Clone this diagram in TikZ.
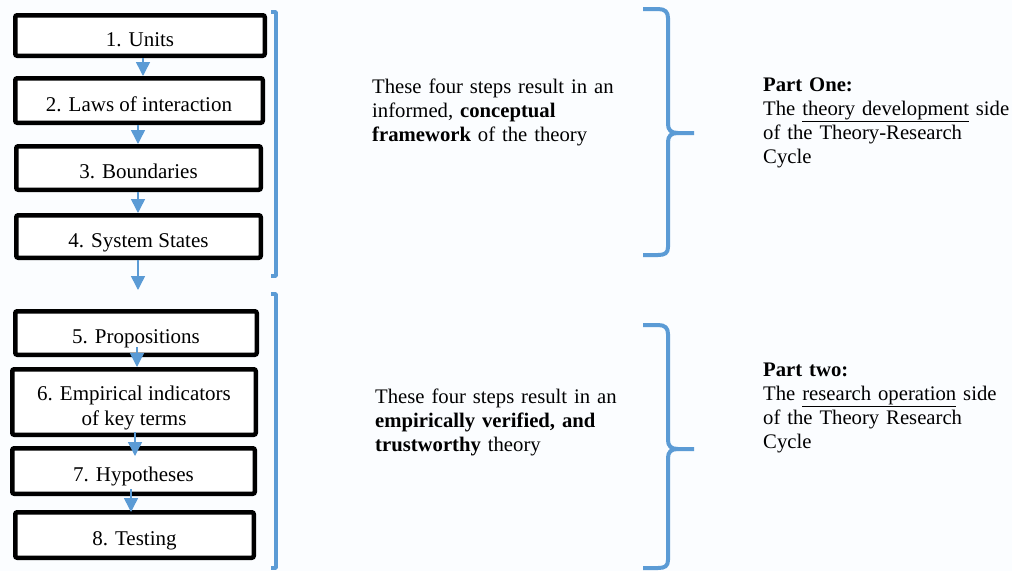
\documentclass[tikz,border=0pt]{standalone}
\usepackage{fontspec}
\setmainfont{Liberation Serif}
\usetikzlibrary{arrows.meta}
\definecolor{bblue}{RGB}{91,155,213}
\definecolor{bg}{RGB}{251,253,255}
\begin{document}
\begin{tikzpicture}[x=1pt,y=-1pt,
  boxbase/.style={draw=black,line width=4.5pt,rounded corners=2pt,fill=white,inner sep=0pt,font=\fontsize{21}{24.3}\selectfont},
  stepbox/.style={boxbase,text height=23pt,text depth=2pt},
  arr/.style={draw=bblue,line width=1.5pt,-{Triangle[width=14pt,length=14pt]}},
  bracket/.style={draw=bblue,line width=3.5pt,line join=round},
  brace/.style={draw=bblue,line width=4pt,line join=round},
  txt/.style={anchor=base west,inner sep=0pt,text width=270pt,align=left,font=\fontsize{20.7}{24.3}\selectfont}]
\fill[bg] (0,0) rectangle (1012,571);
\useasboundingbox (0,0) rectangle (1012,571);

% step boxes
\node[stepbox,minimum width=249.5pt,minimum height=40.5pt] (b1) at (140,35.5) {1. Units};
\node[stepbox,minimum width=247.5pt,minimum height=44.5pt] (b2) at (139,100.5) {2. Laws of interaction};
\node[stepbox,minimum width=244.5pt,minimum height=43.5pt] (b3) at (138.5,168) {3. Boundaries};
\node[stepbox,minimum width=244.5pt,minimum height=42.5pt] (b4) at (138.5,236.5) {4. System States};
\node[stepbox,minimum width=241.5pt,minimum height=43.5pt] (b5) at (136,333) {5. Propositions};
\node[boxbase,minimum width=243.5pt,minimum height=65.5pt,
  label={[name=b6t,align=center,inner sep=0pt,font=\fontsize{21}{24.3}\selectfont,yshift=-6pt]center:6. Empirical indicators\\of key terms}] (b6) at (134,402) {};
\node[stepbox,minimum width=242.5pt,minimum height=45.5pt] (b7) at (133.5,471) {7. Hypotheses};
\node[stepbox,minimum width=238.5pt,minimum height=45.5pt] (b8) at (134.5,535) {8. Testing};
\coordinate (c4) at (138,290);

% arrows
\draw[arr] ([xshift=3pt]b1.south) -- ([xshift=4pt]b2.north);
\draw[arr] ([xshift=-1pt]b2.south) -- ([xshift=-0.5pt]b3.north);
\draw[arr] ([xshift=-0.5pt]b3.south) -- ([xshift=-0.5pt]b4.north);
\draw[arr] ([xshift=-0.5pt]b4.south) -- (c4);
\draw[arr] ([xshift=1pt,yshift=10pt]b5.south) -- ([xshift=3pt]b6.north);
\draw[arr] ([xshift=1pt,yshift=5pt]b6.south) -- ([xshift=1.5pt,yshift=-10pt]b7.north);
\draw[arr] ([xshift=-2.5pt,yshift=7pt]b7.south) -- ([xshift=-3.5pt,yshift=-2pt]b8.north);

% square brackets
\draw[bracket] (271,12) -- (276,12) -- (276,276) -- (271,276);
\draw[bracket] (271,294) -- (276,294) -- (276,568) -- (271,568);

% curly braces
\draw[brace] (643,9) -- (658,9) .. controls (665,9) and (668,12) .. (668,18) -- (668,124) .. controls (668,130) and (671,133) .. (678,133) -- (694,133);
\draw[brace] (678,133) .. controls (671,133) and (668,136) .. (668,142) -- (668,247) .. controls (668,253) and (665,255) .. (658,255) -- (643,255);
\draw[brace] (643,325) -- (658,325) .. controls (665,325) and (668,328) .. (668,334) -- (668,440) .. controls (668,446) and (671,449) .. (678,449) -- (694,449);
\draw[brace] (678,449) .. controls (671,449) and (668,452) .. (668,458) -- (668,560) .. controls (668,566) and (665,568) .. (658,568) -- (643,568);

% texts
\node[txt] (t1) at (372,93) {These four steps result in an\\ informed, \textbf{conceptual}\\ \textbf{framework} of the theory};
\node[txt] (t2) at (375,403) {These four steps result in an\\ \textbf{empirically verified, and}\\ \textbf{trustworthy} theory};
\node[txt] (p1) at (763,91) {\textbf{Part One:}\\ The \underline{theory development} side\\ of the Theory-Research\\ Cycle};
\node[txt] (p2) at (763,376) {\textbf{Part two:}\\ The \underline{research operation} side\\ of the Theory Research\\ Cycle};
\end{tikzpicture}
\end{document}
